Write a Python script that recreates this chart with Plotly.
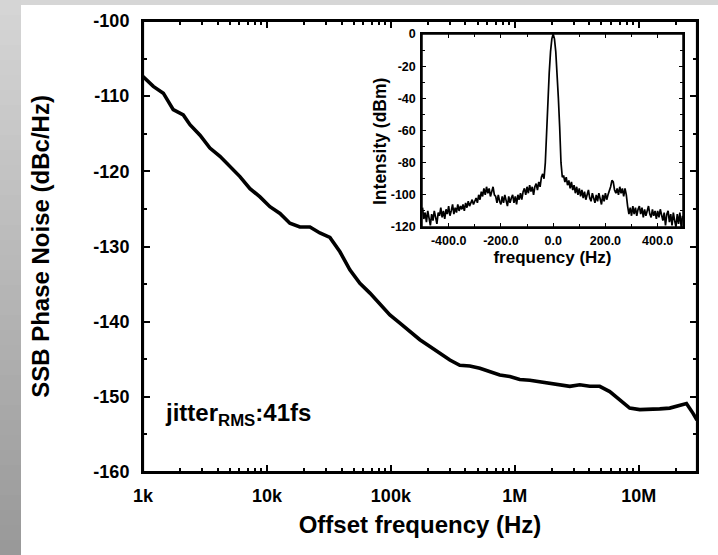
import plotly.graph_objects as go

# ---------------- data: main SSB phase-noise curve ----------------
offset_freq_hz = [1000, 1211, 1459, 1754, 2113, 2393, 2884, 3467, 4178, 5035, 6053, 7295, 8790,
                  10570, 12740, 15310, 18450, 22230, 26730, 32210, 38810, 46670, 56230, 67760, 81470, 98170,
                  118300, 142200, 171400, 206500, 248300, 299200, 359700, 433500, 522400, 628100, 756800, 912000,
                  1.096e6, 1.321e6, 1.592e6, 1.914e6, 2.307e6, 2.780e6, 3.342e6, 4.027e6, 4.842e6, 5.834e6,
                  7.031e6, 8.453e6, 1.019e7, 1.227e7, 1.476e7, 1.778e7, 2.143e7, 2.427e7, 2.742e7, 2.95e7]
phase_noise_dbc = [-107.4, -108.7, -109.6, -111.8, -112.5, -113.8, -115.2, -116.9, -118.0, -119.4, -120.7, -122.3, -123.4,
                   -124.7, -125.6, -126.9, -127.4, -127.4, -128.2, -128.8, -130.7, -133.1, -134.9, -136.2, -137.6, -139.1,
                   -140.2, -141.3, -142.4, -143.3, -144.2, -145.1, -145.8, -145.9, -146.2, -146.7, -147.1, -147.3,
                   -147.7, -147.8, -148.0, -148.3, -148.4, -148.6, -148.4, -148.6, -148.6, -149.3,
                   -150.4, -151.5, -151.7, -151.7, -151.6, -151.5, -151.1, -150.9, -152.2, -153.1]

# ---------------- data: inset RF spectrum ----------------
spec_freq_hz = [-500, -495, -490, -485, -480, -475, -470, -465, -460, -455, -450, -445, -440,
                -435, -430, -425, -420, -415, -410, -405, -400, -395, -390, -385, -380, -375, -370, -365, -360, -355, -350,
                -345, -340, -335, -330, -325, -320, -315, -310, -305, -300,
                -295, -290, -285, -280, -275, -270,
                -265, -260, -255, -250, -245, -240, -235, -230, -225,
                -220, -215, -210, -205, -200, -195, -190, -185, -180, -175, -170, -165, -160, -155, -150, -145, -140, -135, -130,
                -125, -120, -115, -110, -105, -100, -95, -90, -85, -80, -75, -70, -65,
                -60, -55, -50, -45, -40,
                -35, -30, -25, -20, -15, -10, -5, 0, 5, 10, 15, 20, 25, 30, 35,
                40, 45, 50, 55, 60, 65, 70, 75,
                80, 85, 90, 95, 100, 105, 110, 115, 120, 125, 130, 135, 140, 145, 150,
                155, 160, 165, 170, 175, 180, 185, 190, 195, 200, 205, 210, 215,
                220, 225, 230, 235, 240,
                245, 250, 255, 260, 265, 270, 275, 280,
                285, 290, 295, 300,
                305, 310, 315, 320, 325, 330, 335, 340, 345, 350, 355, 360, 365, 370, 375, 380, 385, 390, 395, 400,
                405, 410, 415, 420, 425, 430, 435, 440, 445, 450, 455, 460, 465, 470, 475, 480, 485, 490, 495]
spec_dbm = [-108, -115, -111, -117, -110, -114, -119, -112, -116, -110, -114, -118, -111,
            -113, -108, -114, -110, -115, -109, -112, -107, -113, -110, -106, -112, -108, -111, -106, -110, -107, -109,
            -106, -110, -105, -108, -104, -107, -105, -103, -106, -104,
            -102, -105, -100, -103, -98, -101,
            -96, -100, -95, -99, -96, -101, -97, -95, -100,
            -101, -105, -100, -104, -106, -101, -105, -100, -104, -107, -101, -105, -102, -100, -105, -101, -106, -100, -103,
            -99, -103, -98, -96, -100, -95, -99, -94, -98, -95, -100, -95, -93,
            -97, -92, -95, -89, -87,
            -90, -80, -58, -40, -24, -11, -3, 0, -3, -11, -24, -40, -58, -80, -89,
            -88, -92, -89, -94, -91, -96, -92, -97,
            -94, -99, -95, -100, -96, -101, -97, -102, -98, -103, -99, -97, -102, -104, -99,
            -103, -105, -100, -104, -99, -103, -106, -100, -104, -99, -103, -100, -98,
            -95, -91, -92, -97, -99,
            -96, -100, -95, -99, -96, -101, -96, -100,
            -107, -112, -108, -113,
            -107, -112, -108, -113, -109, -107, -112, -108, -114, -109, -113, -109, -107, -112, -114, -109, -113, -110, -115, -110,
            -114, -109, -113, -116, -111, -119, -112, -110, -117, -112, -119, -111, -116, -120, -112, -118, -111, -120, -113]

# ---------------- tick labels ----------------
main_x_tickvals = [1e3, 1e4, 1e5, 1e6, 1e7]
main_x_ticktext = ["1k", "10k", "100k", "1M", "10M"]
main_y_tickvals = [-160, -150, -140, -130, -120, -110, -100]
main_y_ticktext = ["-160", "-150", "-140", "-130", "-120", "-110", "-100"]
inset_x_tickvals = [-400, -200, 0, 200, 400]
inset_x_ticktext = ["-400.0", "-200.0", "0.0", "200.0", "400.0"]
inset_y_tickvals = [-120, -100, -80, -60, -40, -20, 0]
inset_y_ticktext = ["-120", "-100", "-80", "-60", "-40", "-20", "0"]

# ---------------- geometry helpers (layout only) ----------------
W, H = 718, 555
L, R, T, B = 143, 21, 21, 83
PW, PH = W - L - R, H - T - B


def px_x(p):
    return (p - L) / PW


def px_y(p):
    return (H - B - p) / PH


FONT = "Liberation Sans, Arial, Helvetica, sans-serif"


def bfont(size):
    return dict(family=FONT, size=size, color="black", weight="bold")


main_minor_x = [m * 10 ** d for d in range(3, 8) for m in range(2, 10) if m * 10 ** d <= 2.95e7]

fig = go.Figure()
fig.add_trace(go.Scatter(x=offset_freq_hz, y=phase_noise_dbc, mode="lines",
                         line=dict(color="black", width=3.6), xaxis="x", yaxis="y",
                         showlegend=False, hoverinfo="skip"))
fig.add_trace(go.Scatter(x=spec_freq_hz, y=spec_dbm, mode="lines",
                         line=dict(color="black", width=1.7), xaxis="x2", yaxis="y2",
                         showlegend=False, hoverinfo="skip"))

axis_common = dict(showline=True, linecolor="black", showgrid=False, zeroline=False,
                   ticks="inside", tickcolor="black", mirror="allticks")

fig.update_layout(
    width=W, height=H,
    margin=dict(l=L, r=R, t=T, b=B, pad=0),
    paper_bgcolor="white", plot_bgcolor="white", showlegend=False,
    xaxis=dict(type="log", range=[3, 7.47], tickmode="array", tickvals=main_x_tickvals,
               ticktext=main_x_ticktext, ticklen=7, tickwidth=2, linewidth=2,
               tickfont=bfont(18), ticklabelstandoff=6,
               minor=dict(tickmode="array", tickvals=main_minor_x, ticks="inside", ticklen=4,
                          tickwidth=1.5, tickcolor="black"),
               title=dict(text="Offset frequency (Hz)", font=bfont(24), standoff=12),
               **axis_common),
    yaxis=dict(range=[-160, -100], tickmode="array", tickvals=main_y_tickvals,
               ticktext=main_y_ticktext, ticklen=7, tickwidth=2, linewidth=2,
               tickfont=bfont(18), ticklabelstandoff=8,
               minor=dict(tickmode="array", tickvals=[-155, -145, -135, -125, -115, -105],
                          ticks="inside", ticklen=4, tickwidth=1.5, tickcolor="black"),
               title=dict(text="SSB Phase Noise (dBc/Hz)", font=bfont(24), standoff=37),
               **axis_common),
    xaxis2=dict(domain=[px_x(422), px_x(683)], anchor="y2", range=[-502, 497],
                tickmode="array", tickvals=inset_x_tickvals, ticktext=inset_x_ticktext,
                ticklen=4, tickwidth=1.2, linewidth=1.5, tickfont=bfont(12.5), ticklabelstandoff=1,
                minor=dict(tickmode="array", tickvals=[-500, -300, -100, 100, 300], ticks="inside",
                           ticklen=3, tickwidth=1, tickcolor="black"),
                title=dict(text="frequency (Hz)", font=bfont(17), standoff=3),
                **axis_common),
    yaxis2=dict(domain=[px_y(227), px_y(34)], anchor="x2", range=[-120, 0],
                tickmode="array", tickvals=inset_y_tickvals, ticktext=inset_y_ticktext,
                ticklen=4, tickwidth=1.2, linewidth=1.5, tickfont=bfont(12.5), ticklabelstandoff=2,
                minor=dict(tickmode="array", tickvals=[-110, -90, -70, -50, -30, -10], ticks="inside",
                           ticklen=3, tickwidth=1, tickcolor="black"),
                **axis_common),
)

# inset y-axis title (placed as in the reference, slightly below centre)
fig.add_annotation(text="Intensity (dBm)", xref="paper", yref="paper",
                   x=px_x(380), y=px_y(142), xanchor="center", yanchor="middle",
                   textangle=-90, showarrow=False, font=bfont(17.5))

# jitter annotation
fig.add_annotation(text="jitter<sub>RMS</sub>:41fs", xref="paper", yref="paper",
                   x=px_x(163), y=px_y(414), xanchor="left", yanchor="middle",
                   showarrow=False, font=bfont(24))

# background frame: light top strip and grey vertical gradient on the left
shapes = [dict(type="rect", xref="paper", yref="paper", x0=px_x(0), x1=px_x(W), y0=px_y(5), y1=px_y(0),
               fillcolor="#d6d6d6", line=dict(width=0), layer="below")]
nb = 37
for i in range(nb):
    y0p = i * H / nb
    y1p = (i + 1) * H / nb
    c = int(round(214 - (214 - 152) * (i + 0.5) / nb))
    shapes.append(dict(type="rect", xref="paper", yref="paper", x0=px_x(0), x1=px_x(21),
                       y0=px_y(y1p), y1=px_y(y0p), fillcolor=f"rgb({c},{c},{c})",
                       line=dict(width=0), layer="below"))

# plot frames (boxes around main plot and inset)
shapes.append(dict(type="rect", xref="x domain", yref="y domain", x0=0, x1=1, y0=0, y1=1,
                   line=dict(color="black", width=2.2), fillcolor="rgba(0,0,0,0)", layer="above"))
shapes.append(dict(type="rect", xref="x2 domain", yref="y2 domain", x0=0, x1=1, y0=0, y1=1,
                   line=dict(color="black", width=1.5), fillcolor="rgba(0,0,0,0)", layer="above"))
fig.update_layout(shapes=shapes)

fig.write_html("out.html")
